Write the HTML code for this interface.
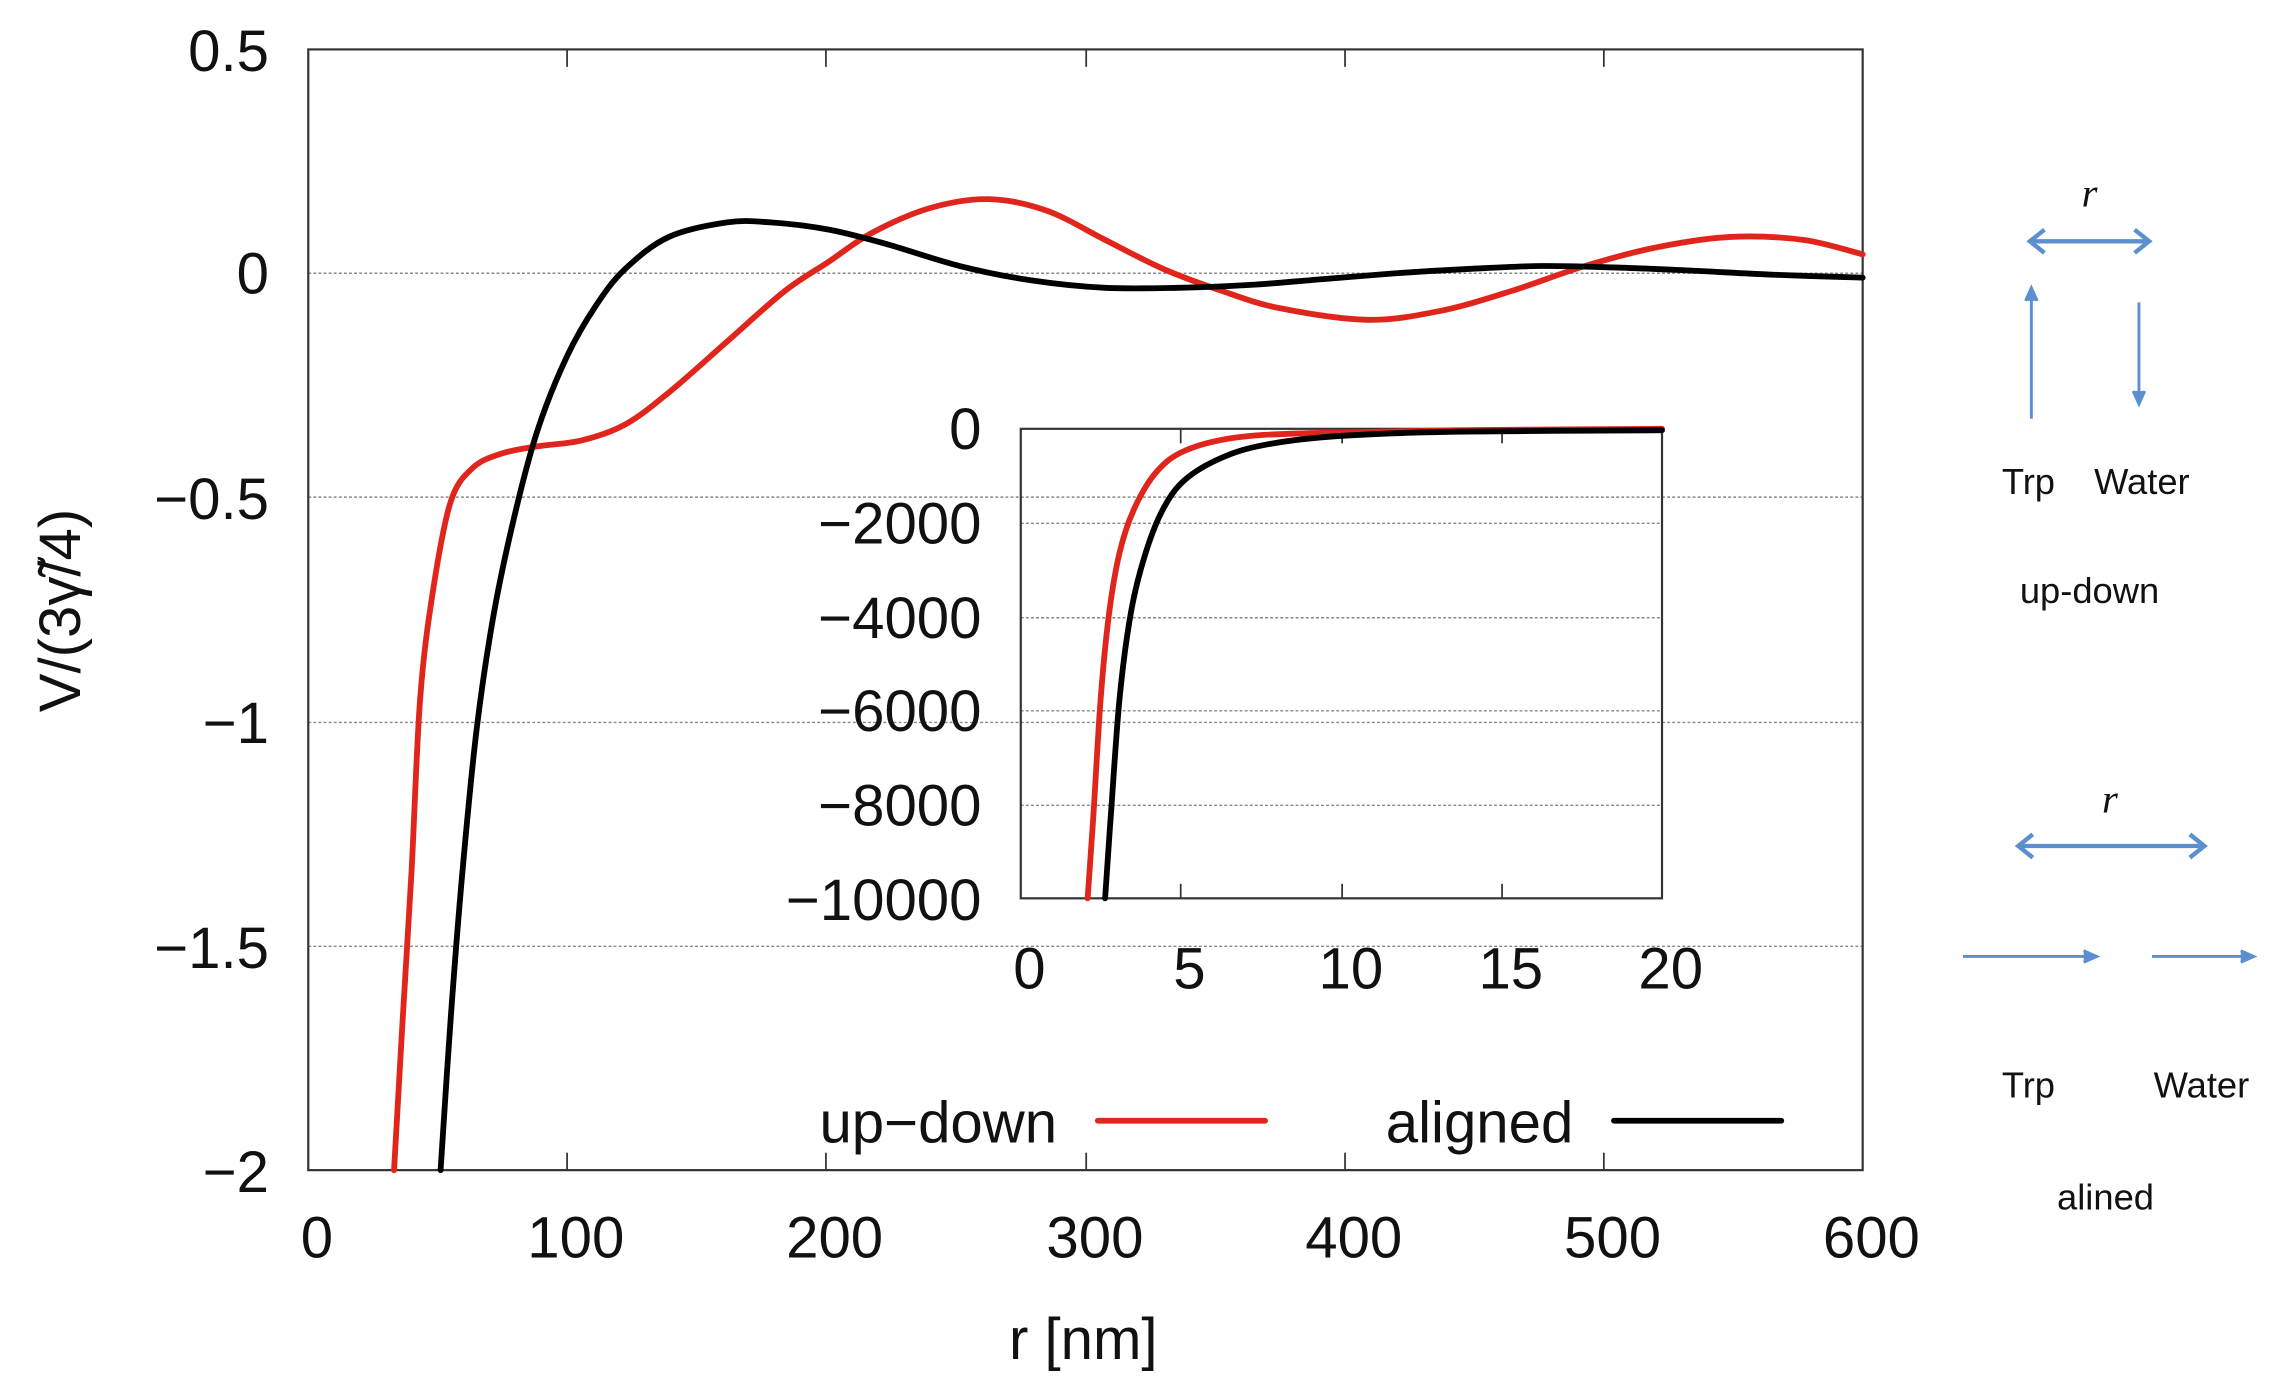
<!DOCTYPE html>
<html><head><meta charset="utf-8"><style>html,body{margin:0;padding:0;background:#fff}</style></head><body>
<svg width="2280" height="1394" viewBox="0 0 1568 959" preserveAspectRatio="none" xmlns="http://www.w3.org/2000/svg" font-family="Liberation Sans, sans-serif">
<rect width="1568" height="959" fill="#fff"/>
<g stroke="#888" stroke-width="1" stroke-dasharray="2,1.5">
<line x1="212" y1="188" x2="1281" y2="188"/><line x1="212" y1="342" x2="1281" y2="342"/>
<line x1="212" y1="497" x2="1281" y2="497"/><line x1="212" y1="651" x2="1281" y2="651"/>
<line x1="702" y1="360" x2="1143" y2="360"/><line x1="702" y1="425" x2="1143" y2="425"/>
<line x1="702" y1="489" x2="1143" y2="489"/><line x1="702" y1="554" x2="1143" y2="554"/>
</g>
<rect x="212" y="34" width="1069" height="771" fill="none" stroke="#333" stroke-width="1.5"/>
<g stroke="#333" stroke-width="1.2">
<line x1="390" y1="805" x2="390" y2="793"/><line x1="568" y1="805" x2="568" y2="793"/><line x1="747" y1="805" x2="747" y2="793"/><line x1="925" y1="805" x2="925" y2="793"/><line x1="1103" y1="805" x2="1103" y2="793"/>
<line x1="390" y1="34" x2="390" y2="46"/><line x1="568" y1="34" x2="568" y2="46"/><line x1="747" y1="34" x2="747" y2="46"/><line x1="925" y1="34" x2="925" y2="46"/><line x1="1103" y1="34" x2="1103" y2="46"/>
</g>
<rect x="702" y="295" width="441" height="323" fill="none" stroke="#333" stroke-width="1.5"/>
<g stroke="#333" stroke-width="1.2">
<line x1="812" y1="618" x2="812" y2="608"/><line x1="923" y1="618" x2="923" y2="608"/><line x1="1033" y1="618" x2="1033" y2="608"/>
<line x1="812" y1="295" x2="812" y2="305"/><line x1="923" y1="295" x2="923" y2="305"/><line x1="1033" y1="295" x2="1033" y2="305"/>
</g>
<g fill="none" stroke-width="4" stroke-linejoin="round" stroke-linecap="round">
<polyline class="c" stroke="#e0261c" points="271,805 277,700 283,600 289,480 298,405 310,345 325,322 345,312 370,307 400,303 430,292 460,270 500,235 540,200 570,180 600,160 640,143 680,137 720,145 760,165 800,185 840,200 880,212 940,220 990,214 1040,200 1090,183 1140,170 1190,163 1240,165 1281,175"/>
<polyline class="c" stroke="#000" points="303,805 310,700 318,600 328,500 340,420 355,350 370,295 390,245 410,210 430,185 460,163 500,153 530,153 570,158 610,168 660,183 710,193 760,198 810,198 860,196 910,192 960,188 1010,185 1060,183 1110,184 1160,186 1220,189 1281,191"/>
<polyline class="c" stroke="#e0261c" points="748,618 752,560 757,480 763,420 770,380 780,350 795,325 815,310 850,301 900,298 1000,296 1143,295"/>
<polyline class="c" stroke="#000" points="760,618 764,560 770,480 778,420 788,380 800,350 815,330 840,315 870,306 920,300 1000,297 1143,296"/>
<line stroke="#e0261c" x1="755" y1="771" x2="870" y2="771"/>
<line stroke="#000" x1="1110" y1="771" x2="1225" y2="771"/>
</g>
<g font-size="40" fill="#111" text-anchor="end">
<text x="185" y="49">0.5</text><text x="185" y="202">0</text><text x="185" y="357">−0.5</text><text x="185" y="511">−1</text><text x="185" y="666">−1.5</text><text x="185" y="820">−2</text>
<text x="675" y="309">0</text><text x="675" y="374">−2000</text><text x="675" y="439">−4000</text><text x="675" y="503">−6000</text><text x="675" y="568">−8000</text><text x="675" y="633">−10000</text>
<text x="727" y="786">up−down</text><text x="1082" y="786">aligned</text>
</g>
<g font-size="40" fill="#111" text-anchor="middle">
<text x="218" y="865">0</text><text x="396" y="865">100</text><text x="574" y="865">200</text><text x="753" y="865">300</text><text x="931" y="865">400</text><text x="1109" y="865">500</text><text x="1287" y="865">600</text>
<text x="708" y="680">0</text><text x="818" y="680">5</text><text x="929" y="680">10</text><text x="1039" y="680">15</text><text x="1149" y="680">20</text>
<text x="745" y="935">r [nm]</text>
<text transform="translate(55,420) rotate(-90)">V/(3γ̃/4)</text>
</g>
<g stroke="#5b8fd0" fill="none" stroke-width="2">
<line x1="1398" y1="166" x2="1476" y2="166" stroke-width="3"/><polyline points="1406,158 1396,166 1406,174" stroke-width="3"/><polyline points="1468,158 1478,166 1468,174" stroke-width="3"/>
<line x1="1397" y1="288" x2="1397" y2="200"/><polyline points="1393,207 1397,198 1401,207" fill="#5b8fd0"/>
<line x1="1471" y1="208" x2="1471" y2="276"/><polyline points="1467,269 1471,278 1475,269" fill="#5b8fd0"/>
<line x1="1390" y1="582" x2="1514" y2="582" stroke-width="3"/><polyline points="1398,574 1388,582 1398,590" stroke-width="3"/><polyline points="1506,574 1516,582 1506,590" stroke-width="3"/>
<line x1="1350" y1="658" x2="1440" y2="658"/><polyline points="1433,654 1442,658 1433,662" fill="#5b8fd0"/>
<line x1="1480" y1="658" x2="1548" y2="658"/><polyline points="1541,654 1550,658 1541,662" fill="#5b8fd0"/>
</g>
<g font-size="25" fill="#111" text-anchor="middle">
<text x="1437" y="142" font-family="Liberation Serif, serif" font-style="italic" font-size="28">r</text>
<text x="1395" y="340">Trp</text><text x="1473" y="340">Water</text><text x="1437" y="415">up-down</text>
<text x="1451" y="559" font-family="Liberation Serif, serif" font-style="italic" font-size="28">r</text>
<text x="1395" y="755">Trp</text><text x="1514" y="755">Water</text><text x="1448" y="832">alined</text>
</g>
</svg>
<script>
document.querySelectorAll('polyline.c').forEach(function(pl){
  var p=pl.getAttribute('points').trim().split(/\s+/).map(function(s){return s.split(',').map(Number);});
  var d='M'+p[0][0]+','+p[0][1];
  for(var i=0;i<p.length-1;i++){
    var a=p[Math.max(i-1,0)],b=p[i],c=p[i+1],e=p[Math.min(i+2,p.length-1)];
    var c1x=b[0]+(c[0]-a[0])/6,c1y=b[1]+(c[1]-a[1])/6,c2x=c[0]-(e[0]-b[0])/6,c2y=c[1]-(e[1]-b[1])/6;
    d+=' C'+c1x.toFixed(1)+','+c1y.toFixed(1)+' '+c2x.toFixed(1)+','+c2y.toFixed(1)+' '+c[0]+','+c[1];
  }
  var path=document.createElementNS('http://www.w3.org/2000/svg','path');
  path.setAttribute('d',d);path.setAttribute('stroke',pl.getAttribute('stroke'));
  pl.parentNode.replaceChild(path,pl);
});
</script>
</body></html>
